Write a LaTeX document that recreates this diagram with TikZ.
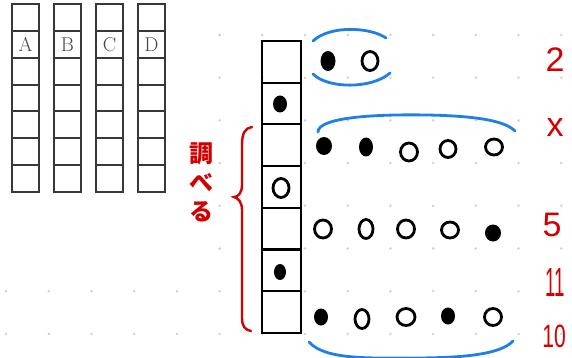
\documentclass[tikz,border=0pt]{standalone}
\usepackage{fontspec}
\newfontfamily\jpfont{Noto Sans CJK JP}
\newfontfamily\numfont{Liberation Sans}
\usepackage{tikz}
\usetikzlibrary{shapes.geometric, positioning}
\definecolor{penred}{HTML}{D40000}
\definecolor{penblue}{HTML}{1E80E6}
\definecolor{griddot}{HTML}{D0D0D0}
\definecolor{tabline}{HTML}{383838}

\begin{document}
\begin{tikzpicture}[
    x=1pt, y=-1pt,
    cell/.style={rectangle, draw=tabline, line width=2pt, minimum width=27pt, minimum height=26.86pt, inner sep=0pt},
    slot/.style={rectangle, draw=black, line width=2.2pt, minimum width=39pt, minimum height=41.7pt, inner sep=0pt},
    fullball/.style={ellipse, fill=black, minimum width=14pt, minimum height=18pt, inner sep=0pt},
    emptyball/.style={ellipse, draw=black, line width=2.8pt, minimum width=15pt, minimum height=18pt, inner sep=0pt},
    count/.style={font=\numfont\fontsize{34}{34}\selectfont, text=penred, inner sep=0pt},
    bluearc/.style={draw=penblue, line width=2.8pt, line cap=round},
    redbrace/.style={draw=penred, line width=2.4pt, line cap=round}
]
    \useasboundingbox (0,0) rectangle (572,358);

    % dotted paper
    \foreach \gx in {0,...,13}
        \foreach \gy in {0,...,7}
            \fill[griddot] (6.1+42.7*\gx, 35+42.7*\gy) circle (1.4pt);
    \fill[white] (0,0) rectangle (205,270);

    % the four columns A--D
    \foreach \lab [count=\i from 0] in {A,B,C,D} {
        \foreach \k in {0,...,6}
            \node[cell] (col\lab\k) at (25.5+42*\i, 17.43+26.86*\k) {};
        \node[text=black!72, font=\fontsize{20}{20}\selectfont] at (col\lab1) {\lab};
    }

    % the long column
    \foreach \k in {0,...,6}
        \node[slot] (slot\k) at (281.5, 61.85+41.7*\k) {};
    \node[fullball, minimum height=17pt] (s1) at (280,104) {};
    \node[emptyball, minimum width=16pt, minimum height=19pt] (s3) at (281,188) {};
    \node[fullball, minimum width=12pt, minimum height=16pt] (s5) at (280,272) {};

    % brace and its label
    \draw[redbrace] (252,127) .. controls (245,128) and (242,133) .. (242,145)
        -- (242,185) .. controls (242,193) and (238,197) .. (234,197)
        .. controls (238,198) and (242,202) .. (242,210)
        -- (242,318) .. controls (242,326) and (245,330) .. (251,331);
    \node[align=center, text=penred, font=\jpfont\bfseries\fontsize{24}{29}\selectfont, inner sep=0pt] (look) at (201,182) {調\\べ\\る};

    % first group
    \node[fullball, minimum width=15pt, minimum height=20pt] (a1) at (328,61) {};
    \node[emptyball, minimum width=16pt, minimum height=19pt] (a2) at (370,61) {};
    \draw[bluearc] (313,41) .. controls (330,25) and (370,27) .. (386,38);
    \draw[bluearc] (313,74) .. controls (328,89) and (372,89) .. (390,73);

    % second row
    \node[fullball, minimum width=16pt, minimum height=18pt] (b1) at (324,146) {};
    \node[fullball, minimum height=19pt] (b2) at (366,147) {};
    \node[emptyball, minimum width=17pt] (b3) at (409,152) {};
    \node[emptyball, minimum width=16pt, minimum height=17pt] (b4) at (448,149) {};
    \node[emptyball, minimum width=17pt, minimum height=16pt] (b5) at (494,147) {};
    \draw[bluearc] (318,132) .. controls (318,118) and (370,114) .. (427,115)
        .. controls (478,116) and (505,121) .. (515,131);

    % third row
    \node[emptyball, minimum width=17pt] (c1) at (323,229) {};
    \node[emptyball, minimum width=14pt, minimum height=19pt] (c2) at (366,229) {};
    \node[emptyball, minimum width=17pt, minimum height=18pt] (c3) at (406,229) {};
    \node[emptyball, minimum width=17pt, minimum height=16pt] (c4) at (450,230) {};
    \node[fullball, minimum width=16pt, minimum height=17pt] (c5) at (493,233) {};

    % fourth row
    \node[fullball, minimum height=17pt] (d1) at (321,317) {};
    \node[emptyball, minimum width=14pt, minimum height=19pt] (d2) at (362,319) {};
    \node[emptyball, minimum width=18pt, minimum height=17pt] (d3) at (406,317) {};
    \node[fullball, minimum height=17pt] (d4) at (448,316) {};
    \node[emptyball, minimum width=17pt, minimum height=17pt] (d5) at (493,317) {};
    \draw[bluearc] (309,342) .. controls (325,360) and (370,358) .. (412,358)
        .. controls (460,358) and (500,355) .. (513,341);

    % counts
    \node[count] (n1) at (555,60) {2};
    \node[count] (n2) at (555,128) {x};
    \node[count] (n3) at (552,225) {5};
    \node[count] (n4) at (555,282) {\scalebox{0.55}[1.2]{11}};
    \node[count] (n5) at (554,336) {\scalebox{0.62}[0.95]{10}};
\end{tikzpicture}
\end{document}
